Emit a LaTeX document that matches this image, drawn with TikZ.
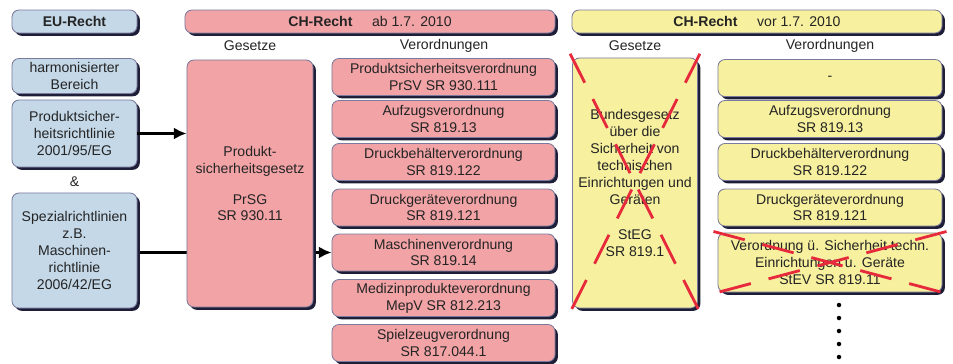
\documentclass[tikz,border=0pt]{standalone}
\usepackage{fontspec}
\setmainfont{Liberation Sans}
\usetikzlibrary{shadows,arrows.meta,backgrounds}

\definecolor{eublue}{HTML}{C4D8E8}
\definecolor{chred}{HTML}{F2A3A6}
\definecolor{chyellow}{HTML}{F7F09E}
\definecolor{rimgrey}{HTML}{7A7A9C}
\definecolor{shadownavy}{HTML}{1E1E38}
\definecolor{crossred}{HTML}{E62A3C}
\definecolor{txtgrey}{HTML}{242424}

\begin{document}
\begin{tikzpicture}[x=0.025cm, y=-0.025cm,
    box/.style={rectangle, rounded corners=5pt, draw=rimgrey, line width=0.6pt, align=center,
        text=txtgrey, font=\fontsize{10}{12}\selectfont, inner sep=1pt,
        drop shadow={shadow xshift=2pt, shadow yshift=-2pt, fill=shadownavy, opacity=1}},
    head/.style={minimum height=0.575cm},
    eubox/.style={box, fill=eublue, minimum width=3.125cm},
    abbox/.style={box, fill=chred},
    vorbox/.style={box, fill=chyellow},
    vo/.style={minimum width=5.575cm, minimum height=0.925cm},
    lbl/.style={text=txtgrey, font=\fontsize{10}{12}\selectfont, inner sep=1pt},
    arrow/.style={-{Latex[length=9pt,width=8.5pt]}, line width=2pt},
    strike/.style={crossred, line width=2pt, dash pattern=on 23pt off 13pt,
        shorten <=-3pt, shorten >=-3pt}
]
\useasboundingbox (0,0) rectangle (953,363);

% headers
\node[eubox, head] (eurecht) at (74.5,21.5) {\bfseries EU-Recht};
\node[abbox, head, minimum width=9.25cm] (chab) at (370,21.5) {\textbf{CH-Recht}\hspace{14pt}ab 1.7. 2010};
\node[vorbox, head, minimum width=9.25cm] (chvor) at (757,21.5) {\textbf{CH-Recht}\hspace{14pt}vor 1.7. 2010};

\node[lbl] (gesab) at (250,46) {Gesetze};
\node[lbl] (verab) at (444,46) {Verordnungen};
\node[lbl] (gesvor) at (635,46) {Gesetze};
\node[lbl] (vervor) at (830,46) {Verordnungen};

% EU-Recht
\node[eubox, minimum height=0.875cm] (harm) at (74.5,76) {harmonisierter\\Bereich};
\node[eubox, minimum height=1.675cm] (psrl) at (74.5,133.5) {Produktsicher-\\heitsrichtlinie\\2001/95/EG};
\node[lbl] (und) at (74.5,182) {\&};
\node[eubox, minimum height=2.875cm] (spez) at (74.5,250.5) {Spezialrichtlinien\\z.B.\\Maschinen-\\richtlinie\\2006/42/EG};

% CH-Recht ab 1.7. 2010
\node[abbox, minimum width=3.15cm, minimum height=6.175cm] (prsg) at (250,183.5) {Produkt-\\sicherheitsgesetz\\[10pt]PrSG\\SR 930.11};
\node[abbox, vo] (prsv) at (443.5,77) {Produktsicherheitsverordnung\\PrSV SR 930.111};
\node[abbox, vo] (aufz) at (443.5,119) {Aufzugsverordnung\\SR 819.13};
\node[abbox, vo] (dbeh) at (443.5,162) {Druckbehälterverordnung\\SR 819.122};
\node[abbox, vo] (dger) at (443.5,207.5) {Druckgeräteverordnung\\SR 819.121};
\node[abbox, vo] (masch) at (443.5,252.5) {Maschinenverordnung\\SR 819.14};
\node[abbox, vo] (mepv) at (443.5,298) {Medizinprodukteverordnung\\MepV SR 812.213};
\node[abbox, vo] (spiel) at (443.5,343) {Spielzeugverordnung\\SR 817.044.1};

% CH-Recht vor 1.7. 2010
\node[vorbox, minimum width=3.125cm, minimum height=6.25cm] (steg) at (635,183) {Bundesgesetz\\über die\\Sicherheit von\\technischen\\Einrichtungen und\\Geräten\\[13pt]StEG\\SR 819.1};
\node[vorbox, vo, minimum width=5.6cm] (leer) at (830,78) {-};
\node[vorbox, vo, minimum width=5.6cm] (aufzalt) at (830,119) {Aufzugsverordnung\\SR 819.13};
\node[vorbox, vo, minimum width=5.6cm] (dbehalt) at (830,162) {Druckbehälterverordnung\\SR 819.122};
\node[vorbox, vo, minimum width=5.6cm] (dgeralt) at (830,207.5) {Druckgeräteverordnung\\SR 819.121};
\node[vorbox, vo, minimum width=5.6cm, minimum height=1.475cm] (stev) at (830,262.5) {Verordnung ü. Sicherheit techn.\\Einrichtungen u. Geräte\\StEV SR 819.11};

\foreach \y in {305,318,331,344,357}
    \fill[black] (839,\y) circle (1.6pt);

% arrows
\draw[arrow] (psrl.east) -- (psrl.east -| prsg.west);
\begin{scope}[on background layer]
\draw[arrow] (spez.east |- masch.west) -- (masch.west);
\end{scope}

% aufgehoben
\draw[strike] (steg.north west) -- (steg.south east);
\draw[strike] (steg.north east) -- (steg.south west);
\draw[strike] (stev.north west) -- (stev.south east);
\draw[strike] (stev.north east) -- (stev.south west);
\end{tikzpicture}
\end{document}
